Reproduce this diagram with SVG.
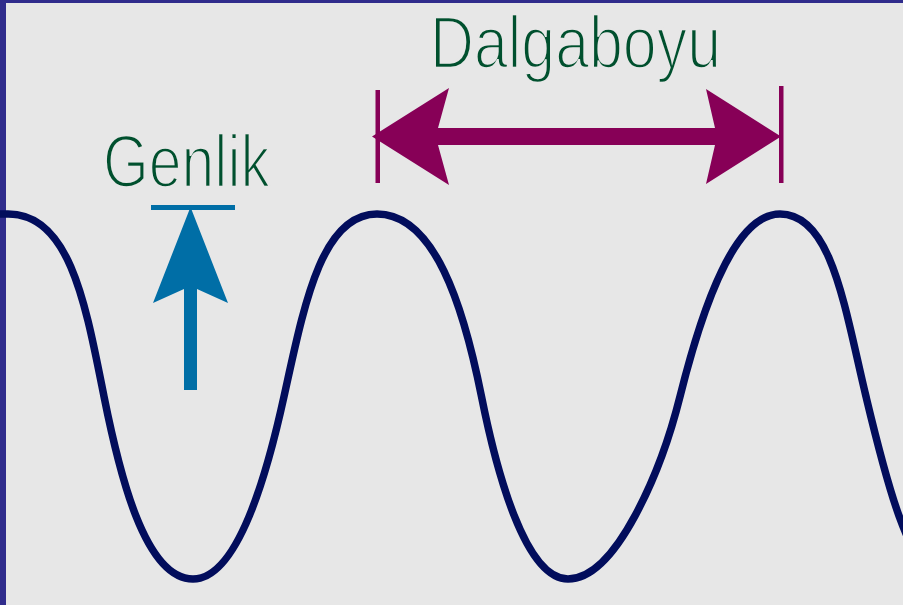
<svg xmlns="http://www.w3.org/2000/svg" width="903" height="605" viewBox="0 0 903 605">
  <style>
    .label { font-family: "Liberation Sans Narrow", "Liberation Sans", Arial, sans-serif; font-size: 74px; fill: #00502e; stroke: #e7e7e7; stroke-width: 2.4; paint-order: fill stroke; }
    .wave { fill: none; stroke: #020d5c; stroke-width: 7.5; stroke-linecap: round; stroke-linejoin: round; }
    .amp { fill: #006ea6; }
    .wl { fill: #870057; }
  </style>
  <rect x="0" y="0" width="903" height="605" fill="#e7e7e7"/>
  <rect x="0" y="0" width="903" height="3" fill="#302c8c"/>
  <rect x="0" y="0" width="6" height="605" fill="#302c8c"/>

  <g id="wave">
    <path class="wave" d="M -10 214 L 8 214 C 70.4 214 85.75 305.25 104 396.5 C 118.6 469.5 144 579 193 579 C 238.5 579 268 469.5 284 396.5 C 304.1 305.25 321.2 214 377 214 C 434.5 214 463.3 305.25 481.5 396.5 C 496.1 469.5 524.75 579 568 579 C 616.6 579 661.75 469.5 680 396.5 C 702.8 305.25 735 214 780 214 C 831.6 214 844.1 305.25 866 396.5 C 883.5 469.5 909.5 579 945 579"/>
  </g>

  <g id="genlik-label">
    <text class="label" x="103" y="187" textLength="167" lengthAdjust="spacingAndGlyphs">Genlik</text>
  </g>
  <g id="dalgaboyu-label">
    <text class="label" x="430" y="68" textLength="291" lengthAdjust="spacingAndGlyphs">Dalgaboyu</text>
  </g>

  <g id="connectors">
    <g id="amplitude-arrow">
      <rect class="amp" x="151" y="205" width="84" height="5"/>
      <polygon class="amp" points="190.5,207 228,303 197,289 197,390 184,390 184,289 153,303"/>
    </g>
    <g id="wavelength-arrow">
      <rect class="wl" x="375.5" y="90" width="4.5" height="93"/>
      <rect class="wl" x="779" y="86" width="4.5" height="97"/>
      <polygon class="wl" points="372,136.5 449,88 438,128 715,128 706,89 781,136.5 706,184 715,145 438,145 449,185"/>
    </g>
  </g>
</svg>
